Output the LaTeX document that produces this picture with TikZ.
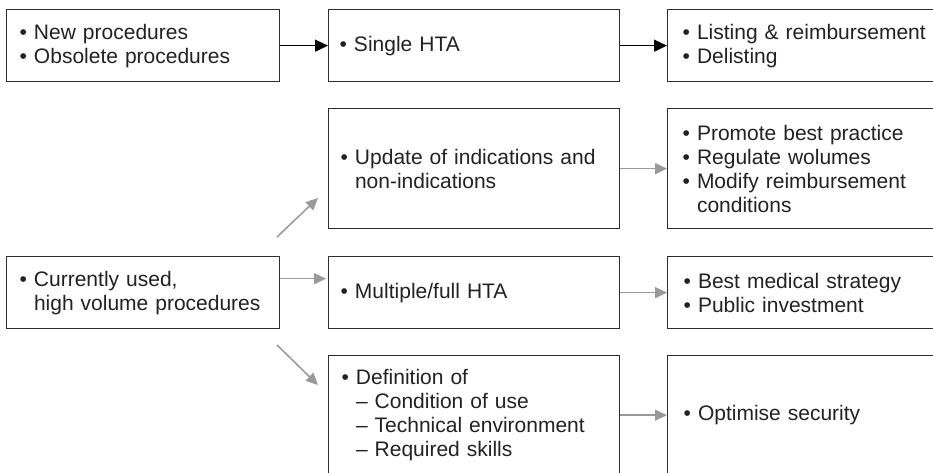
\documentclass[tikz,border=0pt]{standalone}
\usepackage{fontspec}
\setmainfont{Liberation Sans}
\usetikzlibrary{arrows.meta}

\definecolor{ink}{HTML}{222222}
\definecolor{frame}{HTML}{2E2E2E}
\definecolor{softgray}{HTML}{999999}

% bullet, hanging indent and sub-item dash
\newcommand\bl{•\ }
\newcommand\hang{\phantom{•\ }}
\newcommand\subdash{\hang–\ }

\begin{document}
\begin{tikzpicture}[x=1pt,y=-1pt,
  box/.style={draw=frame, line width=1.3pt, rectangle, anchor=north west,
    inner ysep=0pt, align=left, text=ink,
    font=\fontsize{21}{24}\selectfont},
  mainflow/.style={draw=black, line width=1.3pt, -{Triangle[length=13pt,width=12pt]}},
  subflow/.style={draw=softgray, line width=1.5pt, -{Triangle[length=12pt,width=11pt]}}
]
\path[use as bounding box, fill=white] (0,0) rectangle (933,472);
\clip (0,0) rectangle (933,472);

% top row
\node[box, inner xsep=13pt, text width=247pt, minimum height=72pt] (A) at (6,9)
  {\bl New procedures\\\bl Obsolete procedures};
\node[box, inner xsep=11pt, text width=269pt, minimum height=72pt] (B) at (328,9)
  {\bl Single HTA};
\node[box, inner xsep=15pt, text width=260pt, minimum height=72pt] (C) at (667,9)
  {\bl Listing \& reimbursement\\\bl Delisting};

% lower block
\node[box, inner xsep=13pt, text width=247pt, minimum height=72pt] (F) at (6,256)
  {\bl Currently used,\\\hang high volume procedures};

\node[box, inner xsep=12pt, text width=267pt, minimum height=120pt] (D) at (328,108)
  {\bl Update of indications and\\\hang non-indications};
\node[box, inner xsep=12pt, text width=267pt, minimum height=72pt] (G) at (328,256)
  {\bl Multiple/full HTA};
\node[box, inner xsep=13pt, text width=265pt, minimum height=119pt] (I) at (328,355)
  {\bl Definition of\\\subdash Condition of use\\\subdash Technical environment\\\subdash Required skills};

\node[box, inner xsep=15pt, text width=260pt, minimum height=120pt] (E) at (667,108)
  {\bl Promote best practice\\\bl Regulate wolumes\\\bl Modify reimbursement\\\hang conditions};
\node[box, inner xsep=16pt, text width=258pt, minimum height=72pt] (H) at (667,256)
  {\bl Best medical strategy\\\bl Public investment};
\node[box, inner xsep=16pt, text width=258pt, minimum height=119pt] (J) at (667,355)
  {\bl Optimise security};

% connectors
\draw[mainflow] (A.east) -- (B.west);
\draw[mainflow] (B.east) -- (C.west);

\coordinate (upstart) at (277,237);
\coordinate (upend) at (318,198);
\coordinate (downstart) at (277,345);
\coordinate (downend) at (318,385);
\draw[subflow] (upstart) -- (upend);
\draw[subflow] (downstart) -- (downend);
\draw[subflow, shorten >=2pt] ([yshift=14pt]F.east) -- ([yshift=14pt]G.west);

\draw[subflow] (D.east) -- (E.west);
\draw[subflow] (G.east) -- (H.west);
\draw[subflow] (I.east) -- (J.west |- I.east);
\end{tikzpicture}
\end{document}
